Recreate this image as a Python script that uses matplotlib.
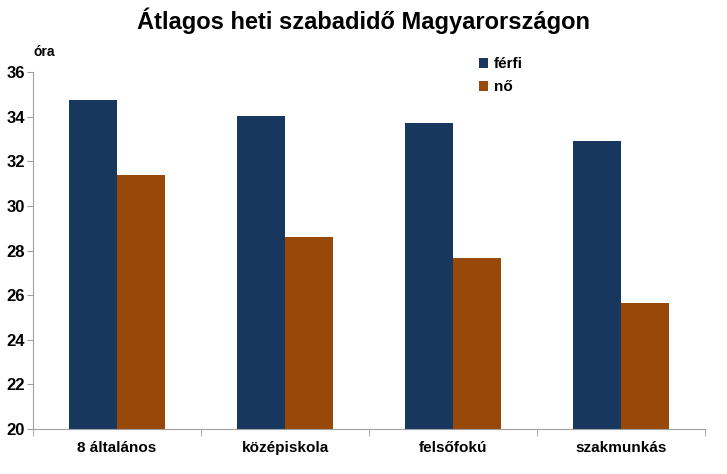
import numpy as np
import matplotlib.pyplot as plt

plt.rcParams['font.family'] = ['Liberation Sans', 'DejaVu Sans']

categories = ["8 általános", "középiskola", "felsőfokú", "szakmunkás"]
ferfi = [34.75, 34.03, 33.7, 32.9]
no = [31.38, 28.6, 27.65, 25.63]
yticks = [20, 22, 24, 26, 28, 30, 32, 34, 36]

fig = plt.figure(figsize=(7.27, 4.74), dpi=100)
ax = fig.add_axes([0.0454, 0.095, 0.9246, 0.753])

x = np.arange(len(categories))
w = 0.286
ax.bar(x - w / 2, ferfi, w, color="#17375E", label="férfi")
ax.bar(x + w / 2, no, w, color="#984807", label="nő")

ax.set_xlim(-0.5, len(categories) - 0.5)
ax.set_ylim(20, 36)
ax.set_yticks(yticks, [str(t) for t in yticks], fontsize=12, fontweight='bold')
ax.set_xticks(x, categories, fontsize=11, fontweight='bold')
ax.set_xticks(np.arange(-0.5, len(categories)), minor=True)
ax.tick_params(axis='x', which='major', length=0, pad=9)
ax.tick_params(axis='x', which='minor', length=5, color='#A0A0A0', direction='out')
ax.tick_params(axis='y', length=4, color='#A0A0A0', direction='out', pad=2)

for s in ['top', 'right']:
    ax.spines[s].set_visible(False)
for s in ['left', 'bottom']:
    ax.spines[s].set_color('#A0A0A0')

ax.text(0.0, 1.045, "óra", transform=ax.transAxes, fontsize=10, fontweight='bold')
fig.suptitle("Átlagos heti szabadidő Magyarországon", fontsize=17, fontweight='bold', y=0.985)

ax.legend(loc='upper left', bbox_to_anchor=(0.643, 1.08), frameon=False,
          prop={'size': 11, 'weight': 'bold'}, handlelength=0.6, handleheight=0.6,
          handletextpad=0.4, labelspacing=0.6)

fig.savefig("out.png", dpi=100)
